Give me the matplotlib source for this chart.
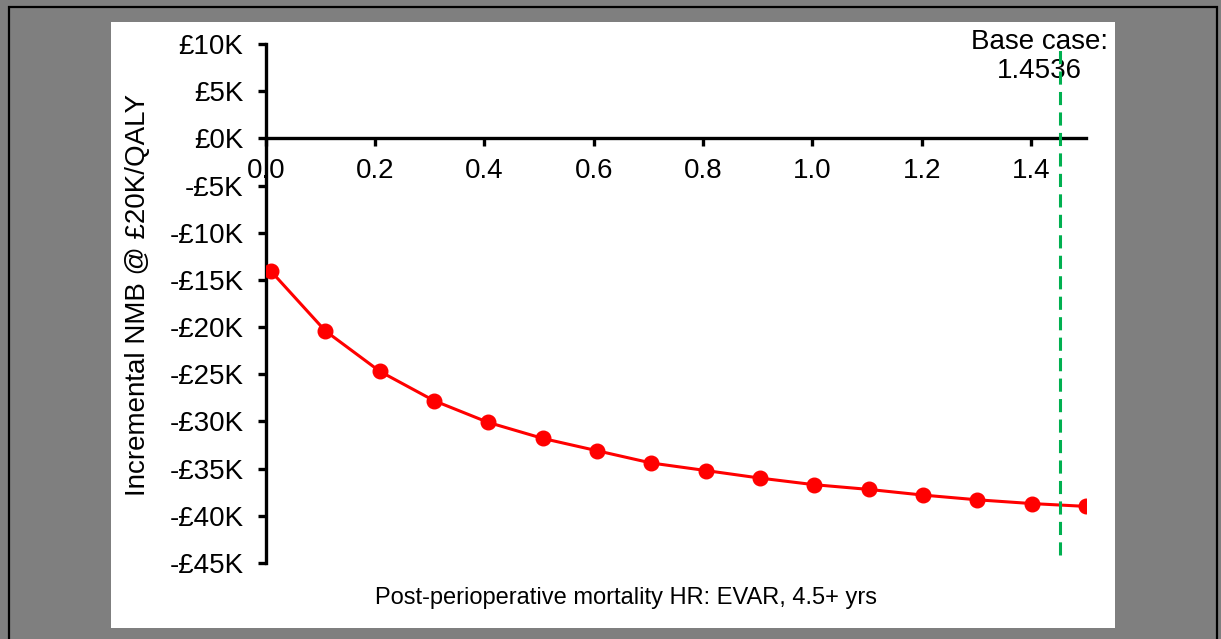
import matplotlib
matplotlib.use("Agg")
import matplotlib.pyplot as plt
from matplotlib.patches import Rectangle

# HR values (x) and incremental NMB in £K (y)
hr = [0.01, 0.109, 0.209, 0.308, 0.407, 0.507, 0.606, 0.705,
      0.805, 0.904, 1.003, 1.103, 1.202, 1.301, 1.401, 1.5]
nmb_k = [-14.1, -20.4, -24.7, -27.8, -30.1, -31.8, -33.1, -34.4,
         -35.2, -36.0, -36.7, -37.2, -37.8, -38.3, -38.7, -39.0]
base_case = 1.4536

x_ticks = [0.0, 0.2, 0.4, 0.6, 0.8, 1.0, 1.2, 1.4]
x_tick_labels = ["0.0", "0.2", "0.4", "0.6", "0.8", "1.0", "1.2", "1.4"]
y_ticks = [10, 5, 0, -5, -10, -15, -20, -25, -30, -35, -40, -45]
y_tick_labels = ["£10K", "£5K", "£0K", "-£5K", "-£10K", "-£15K", "-£20K",
                 "-£25K", "-£30K", "-£35K", "-£40K", "-£45K"]

RED, GREEN, GREY = "#ff0000", "#00b050", "#7f7f7f"
plt.rcParams.update({"font.family": "Liberation Sans", "font.size": 20})

W, H = 1221, 639
fig = plt.figure(figsize=(W / 100, H / 100), dpi=100, facecolor=GREY)

# outer frame + white chart area (pixel coords converted to figure fraction)
fig.patches.append(Rectangle((9 / W, -0.05), (1217 - 9) / W, 1.05 - 7 / H,
                             transform=fig.transFigure, fill=False,
                             edgecolor="black", lw=1.6, zorder=-3))
fig.patches.append(Rectangle((111 / W, 1 - 628 / H), (1115 - 111) / W, (628 - 22) / H,
                             transform=fig.transFigure, facecolor="white",
                             edgecolor="none", zorder=-2))

ax = fig.add_axes([265.7 / W, 1 - 563 / H, 820 / W, 519 / H])
ax.set_facecolor("none")

ax.plot(hr, nmb_k, color=RED, lw=2.2, marker="o", ms=10.5, zorder=3)
ax.axvline(base_case, ymin=0.015, ymax=0.994, color=GREEN, lw=2.2,
           dashes=(4.3, 2.4), zorder=4)
ax.text(1.416, 11.6, "Base case:\n1.4536", ha="center", va="top",
        fontsize=20, linespacing=1.15, clip_on=False)

ax.set_xlim(0, 1.5)
ax.set_ylim(-45, 10)
ax.set_xticks(x_ticks)
ax.set_xticklabels(x_tick_labels)
ax.set_yticks(y_ticks)
ax.set_yticklabels(y_tick_labels)

for side in ("top", "right"):
    ax.spines[side].set_visible(False)
ax.spines["left"].set_position(("data", 0))
ax.spines["bottom"].set_position(("data", 0))
for side in ("left", "bottom"):
    ax.spines[side].set_linewidth(2.4)
ax.tick_params(axis="both", direction="out", length=6, width=2.4)
ax.tick_params(axis="x", pad=8, labelsize=20)
ax.tick_params(axis="y", pad=10, labelsize=20)

fig.text(626 / W, 1 - 598 / H, "Post-perioperative mortality HR: EVAR, 4.5+ yrs",
         ha="center", va="center", fontsize=17)
fig.text(138 / W, 1 - 295 / H, "Incremental NMB @ £20K/QALY", rotation=90,
         ha="center", va="center", fontsize=20)

fig.savefig("out.png", dpi=100, facecolor=GREY)
